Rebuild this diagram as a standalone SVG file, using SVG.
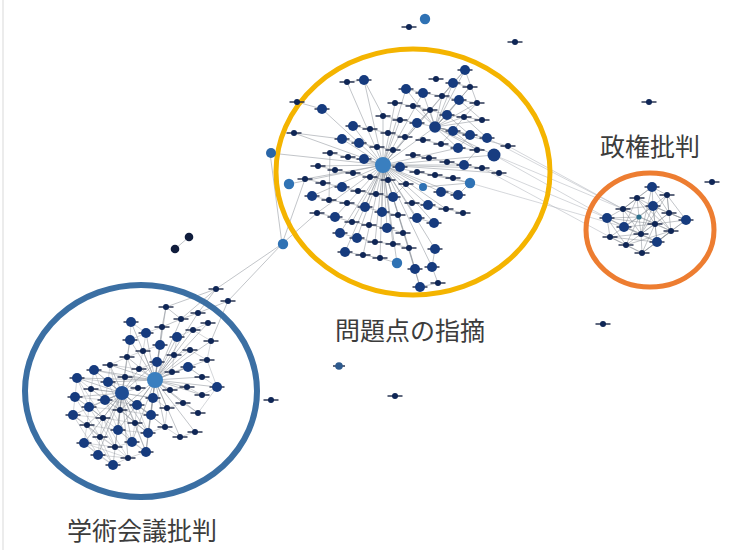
<svg xmlns="http://www.w3.org/2000/svg" xmlns:xlink="http://www.w3.org/1999/xlink" width="731" height="550" viewBox="0 0 731 550">
<style>
.e{fill:none;stroke:#8a8f97;stroke-width:0.65;stroke-opacity:0.8}
.em{fill:none;stroke:#8a8f97;stroke-width:0.6;stroke-opacity:0.6}
.ef{fill:none;stroke:#b4b8be;stroke-width:0.8;stroke-opacity:0.7}
.dash{stroke:#1a2747;stroke-width:1.4}
.lbl{font-family:"Noto Sans CJK JP","Noto Sans CJK SC",sans-serif;font-size:25px;fill:#3c3c3c}
.ring{fill:none}
</style>
<defs>
<g id="s"><line class="dash" x1="-7.5" y1="0" x2="7.5" y2="0"/><circle r="3" fill="#0f2656"/></g>
<g id="b"><line class="dash" x1="-7.5" y1="0" x2="7.5" y2="0"/><circle r="5" fill="#163b7e"/></g>
<g id="l"><circle r="5.2" fill="#2f72b4"/></g>
<g id="h"><circle r="8" fill="#3a7fbf"/></g>
</defs>
<rect width="731" height="550" fill="#ffffff"/>
<line x1="3" y1="0" x2="3" y2="550" stroke="#e6e6e6" stroke-width="1.5"/>

<g id="connectors">
<path class="e" d="M383,165L322,109M383,165L353,126M383,165L342,139M383,165L364,159M383,165L330,153M383,165L318,166M383,165L305,179M383,165L289,184M383,165L312,196M383,165L317,213M383,165L335,217M383,165L340,233M383,165L345,252M383,165L357,238M383,165L365,207M383,165L382,212M383,165L387,228M383,165L393,244M383,165L397,263M383,165L415,269M383,165L420,287M383,165L409,248M383,165L417,218M383,165L428,205M383,165L441,192M383,165L423,187M383,165L458,195M383,165L470,183M383,165L464,165M383,165L494,155M383,165L458,148M383,165L435,127M383,165L417,123M383,165L406,89M383,165L423,93M383,165L453,83M383,165L465,70M383,165L383,116M383,165L400,120M383,165L395,103M383,165L364,80M383,165L347,82M383,165L270,153M383,165L294,133M383,165L482,168M383,165L499,173M383,165L446,209M383,165L434,223M383,165L432,267M383,165L375,242M383,165L352,222M383,165L363,255M383,165L380,258M383,165L435,249"/>
<path class="e" d="M435,127L465,70M435,127L453,83M435,127L459,100M435,127L477,103M435,127L482,120M435,127L487,138M435,127L470,135M435,127L453,131M435,127L464,117M435,127L447,115M435,127L470,87M435,127L442,96M435,127L430,110M435,127L413,106M435,127L494,155M435,127L458,148M435,127L477,150M435,127L423,93M435,127L406,89M435,127L508,146M453,83L470,87L459,100L477,103L464,117L482,120M442,96L459,100L447,115L464,117L453,131L470,135L458,148L477,150L464,165M430,110L447,115L435,127L453,131M413,106L430,110L417,123L435,127M423,140L441,144L458,148M441,144L453,131M447,162L464,165L482,168L499,173M429,158L447,162M413,155L429,158M330,153L329,200M423,187L470,183M417,172L435,175L453,178L470,183M441,192L458,195L470,183M412,203L428,205L446,209L463,213M417,218L434,223M435,249L432,267M415,269L420,287L438,283L432,267M409,248L415,269M387,228L403,233M393,197L406,184M376,194L393,197M358,191L376,194M342,187L358,191M323,183L342,187M305,179L323,183M312,196L329,200L347,203L365,207L382,212L398,215M317,213L335,217L352,222L369,225L387,228M340,233L357,238L375,242L393,244L409,248M345,252L363,255L380,258L397,263M353,126L370,129L388,133L405,137M342,139L359,143L377,147L393,150M318,166L335,170L353,173L370,177L388,180M294,133L342,139M297,102L322,109M347,82L364,80M270,153L282,244M282,244L317,213M282,244L305,179M406,89L423,93L442,96M395,103L413,106M383,116L400,120L417,123M364,80L383,116M465,70L453,83M465,70L477,103M453,83L442,96M459,100L482,120M447,115L470,135M464,117L487,138M453,131L477,150"/>
<path class="ef" d="M494,155L607,218M508,146L623,209M499,173L607,218M470,183L624,227M487,138L623,209M482,168L610,237M494,155L623,209"/>
<path class="e" d="M282,244L216,289M282,244L228,301M216,289L198,313M228,301L198,313M216,289L181,319M228,301L211,341M166,307L162,327L181,319L166,307M181,319L198,313M216,289L166,307"/>
<path class="e" d="M155,380L131,322M155,380L146,333M155,380L130,340M155,380L162,327M155,380L177,337M155,380L193,330M155,380L208,323M155,380L211,341M155,380L160,345M155,380L143,351M155,380L174,355M155,380L190,350M155,380L207,360M155,380L127,357M155,380L157,362M155,380L172,372M155,380L188,367M155,380L202,377M155,380L217,387M155,380L170,390M155,380L187,387M155,380L202,395M155,380L167,408M155,380L183,403M155,380L198,413M155,380L165,427M155,380L180,437M155,380L195,432M155,380L153,398M155,380L151,415M155,380L148,433M155,380L146,452M155,380L132,442M155,380L137,405M155,380L120,410M155,380L118,430M155,380L108,382M155,380L94,370M155,380L77,378M155,380L110,365M155,380L139,369M155,380L125,377M155,380L166,307M155,380L181,319M155,380L198,313"/>
<path class="e" d="M122,393L77,378M122,393L94,370M122,393L110,365M122,393L75,397M122,393L91,389M122,393L73,415M122,393L89,407M122,393L105,400M122,393L87,425M122,393L103,418M122,393L84,443M122,393L100,437M122,393L98,455M122,393L113,465M122,393L128,458M122,393L115,447M122,393L132,442M122,393L146,452M122,393L148,433M122,393L135,423M122,393L118,430M122,393L120,410M122,393L137,405M122,393L153,398M122,393L151,415M122,393L165,427M122,393L138,388M122,393L125,377M122,393L127,357M122,393L139,369M122,393L157,362M122,393L108,382M122,393L130,340"/>
<path class="em" d="M77,378L75,397L73,415L87,425L84,443L98,455L113,465L128,458L146,452L148,433L151,415L153,398M94,370L91,389L89,407L103,418L100,437L115,447L132,442L135,423L137,405M110,365L108,382L105,400L120,410L118,430M77,378L108,382L138,388M75,397L105,400L137,405M73,415L103,418L135,423M87,425L118,430L148,433M84,443L115,447M98,455L128,458M89,407L120,410L151,415M91,389L122,393L153,398M75,397L89,407L87,425L100,437L98,455M77,378L91,389L105,400L118,430L132,442L146,452M94,370L108,382L120,410L135,423L148,433M73,415L100,437L113,465M84,443L113,465M75,397L103,418L115,447L128,458M89,407L118,430M91,389L120,410L148,433M108,382L137,405L165,427M110,365L139,369L157,362M127,357L143,351L160,345M131,322L146,333L162,327M130,340L146,333M177,337L193,330L208,323M174,355L190,350L207,360M172,372L188,367L202,377M170,390L187,387L202,395M167,408L183,403L198,413M165,427L180,437L195,432M198,413L217,387L202,395M188,367L217,387M207,360L217,387M211,341L207,360M211,341L193,330M77,378L89,407M94,370L105,400M110,365L120,410M127,357L138,388M73,415L98,455M87,425L113,465M103,418L128,458M118,430L146,452M135,423L146,452M151,415L146,452M77,378L103,418M75,397L100,437M89,407L115,447M105,400L132,442M120,410L148,433M137,405L148,433M94,370L125,377M110,365L127,357M131,322L130,340L127,357M146,333L143,351L139,369M162,327L160,345L157,362M177,337L174,355L172,372M153,398L167,408L165,427L148,433M84,443L128,458M73,415L115,447"/>
<path class="e" d="M652,187L637,198L623,209L607,218L624,227L610,237L626,245L642,253L657,242L671,231L686,220L669,213L667,195L652,187M653,206L652,187M653,206L637,198M653,206L667,195M653,206L669,213M653,206L623,209M653,206L639,217M653,206L655,224M653,206L686,220M653,206L624,227M653,206L641,234M653,206L671,231M653,206L657,242M639,217L607,218M639,217L624,227M639,217L641,234M639,217L655,224M639,217L626,245M639,217L637,198M639,217L623,209M655,224L671,231M655,224L686,220M655,224L657,242M655,224L641,234M655,224L669,213M655,224L642,253M655,224L624,227M641,234L626,245M641,234L610,237M641,234L657,242M641,234L642,253M657,242L671,231M657,242L642,253M669,213L686,220M669,213L671,231M667,195L669,213M637,198L623,209M623,209L624,227M607,218L610,237M624,227L641,234M652,187L669,213M637,198L655,224M623,209L641,234M607,218L626,245M686,220L657,242M667,195L686,220M652,187L623,209M671,231L642,253M610,237L642,253M624,227L657,242M669,213L641,234M637,198L624,227M607,218L655,224M610,237L657,242M623,209L671,231M637,198L671,231M652,187L641,234M667,195L641,234M626,245L671,231M607,218L641,234"/>
<path class="e" d="M189,237L175,249"/>
</g>

<g id="cluster-yellow">
<ellipse class="ring" cx="413" cy="172" rx="137" ry="123" stroke="#f4b400" stroke-width="5"/>
<use href="#b" x="465" y="70"/><use href="#s" x="347" y="82"/><use href="#b" x="364" y="80"/><use href="#s" x="436" y="79"/><use href="#b" x="453" y="83"/>
<use href="#b" x="406" y="89"/><use href="#b" x="423" y="93"/><use href="#s" x="470" y="87"/><use href="#s" x="442" y="96"/><use href="#b" x="459" y="100"/>
<use href="#b" x="322" y="109"/><use href="#s" x="297" y="102"/><use href="#s" x="395" y="103"/><use href="#s" x="413" y="106"/><use href="#s" x="430" y="110"/>
<use href="#s" x="477" y="103"/><use href="#s" x="383" y="116"/><use href="#s" x="400" y="120"/><use href="#b" x="417" y="123"/><use href="#b" x="447" y="115"/>
<use href="#s" x="464" y="117"/><circle cx="435" cy="127" r="5.8" fill="#163b7e"/><use href="#s" x="482" y="120"/><use href="#b" x="353" y="126"/><use href="#s" x="370" y="129"/>
<use href="#s" x="388" y="133"/><use href="#s" x="405" y="137"/><use href="#b" x="453" y="131"/><use href="#b" x="470" y="135"/><use href="#b" x="487" y="138"/>
<use href="#s" x="294" y="133"/><use href="#b" x="342" y="139"/><use href="#b" x="359" y="143"/><use href="#s" x="377" y="147"/><use href="#s" x="393" y="150"/>
<use href="#s" x="423" y="140"/><use href="#s" x="441" y="144"/><use href="#b" x="458" y="148"/><use href="#s" x="477" y="150"/><use href="#s" x="508" y="146"/>
<circle cx="494" cy="155" r="6.5" fill="#173c80"/>
<use href="#s" x="330" y="153"/><use href="#s" x="348" y="157"/><use href="#b" x="364" y="159"/><use href="#b" x="400" y="167"/>
<use href="#s" x="413" y="155"/><use href="#s" x="429" y="158"/><use href="#s" x="447" y="162"/><use href="#b" x="464" y="165"/><use href="#s" x="482" y="168"/>
<use href="#s" x="499" y="173"/><use href="#s" x="318" y="166"/><use href="#s" x="335" y="170"/><use href="#s" x="353" y="173"/><use href="#s" x="370" y="177"/>
<use href="#s" x="388" y="180"/><use href="#s" x="417" y="172"/><use href="#s" x="435" y="175"/><use href="#s" x="453" y="178"/><use href="#l" x="470" y="183"/>
<circle cx="423" cy="187" r="4" fill="#2f72b4"/><use href="#l" x="289" y="184"/><use href="#s" x="305" y="179"/><use href="#s" x="323" y="183"/><use href="#b" x="342" y="187"/>
<use href="#s" x="358" y="191"/><use href="#s" x="376" y="194"/><use href="#b" x="393" y="197"/><use href="#s" x="406" y="184"/><use href="#b" x="441" y="192"/>
<use href="#b" x="458" y="195"/><use href="#b" x="312" y="196"/><use href="#s" x="329" y="200"/><use href="#s" x="347" y="203"/><use href="#b" x="365" y="207"/>
<use href="#b" x="382" y="212"/><use href="#s" x="398" y="215"/><use href="#s" x="412" y="203"/><use href="#b" x="428" y="205"/><use href="#s" x="446" y="209"/>
<use href="#s" x="463" y="213"/><use href="#s" x="317" y="213"/><use href="#b" x="335" y="217"/><use href="#s" x="352" y="222"/><use href="#s" x="369" y="225"/>
<use href="#b" x="387" y="228"/><use href="#s" x="403" y="233"/><use href="#b" x="417" y="218"/><use href="#b" x="434" y="223"/><use href="#b" x="340" y="233"/>
<use href="#b" x="357" y="238"/><use href="#s" x="375" y="242"/><use href="#s" x="393" y="244"/><use href="#s" x="409" y="248"/><use href="#b" x="435" y="249"/>
<use href="#b" x="345" y="252"/><use href="#s" x="363" y="255"/><use href="#s" x="380" y="258"/><use href="#l" x="397" y="263"/><use href="#b" x="415" y="269"/>
<use href="#b" x="432" y="267"/><use href="#b" x="420" y="287"/><use href="#s" x="438" y="283"/>
<use href="#h" x="383" y="165"/>
</g>

<g id="cluster-blue">
<ellipse class="ring" cx="141" cy="391" rx="116" ry="106" stroke="#3b6fa3" stroke-width="6"/>
<use href="#s" x="166" y="307"/><use href="#s" x="181" y="319"/><use href="#s" x="198" y="313"/>
<use href="#b" x="131" y="322"/><use href="#b" x="146" y="333"/><use href="#b" x="130" y="340"/><use href="#s" x="162" y="327"/><use href="#b" x="177" y="337"/>
<use href="#s" x="193" y="330"/><use href="#s" x="208" y="323"/><use href="#s" x="211" y="341"/><use href="#b" x="160" y="345"/><use href="#s" x="143" y="351"/>
<use href="#s" x="174" y="355"/><use href="#s" x="190" y="350"/><use href="#s" x="207" y="360"/><use href="#s" x="127" y="357"/><use href="#b" x="94" y="370"/>
<use href="#s" x="110" y="365"/><use href="#b" x="157" y="362"/><use href="#s" x="139" y="369"/><use href="#s" x="172" y="372"/><use href="#b" x="188" y="367"/>
<use href="#s" x="202" y="377"/><use href="#b" x="77" y="378"/><use href="#b" x="108" y="382"/><use href="#s" x="125" y="377"/><use href="#b" x="217" y="387"/>
<use href="#b" x="75" y="397"/><use href="#s" x="91" y="389"/><use href="#b" x="153" y="398"/><use href="#s" x="138" y="388"/>
<use href="#s" x="170" y="390"/><use href="#s" x="187" y="387"/><use href="#s" x="202" y="395"/><use href="#b" x="73" y="415"/><use href="#b" x="89" y="407"/>
<use href="#b" x="105" y="400"/><use href="#s" x="120" y="410"/><use href="#b" x="137" y="405"/><use href="#b" x="151" y="415"/><use href="#s" x="167" y="408"/>
<use href="#s" x="183" y="403"/><use href="#s" x="198" y="413"/><use href="#s" x="87" y="425"/><use href="#s" x="103" y="418"/><use href="#b" x="118" y="430"/>
<use href="#s" x="135" y="423"/><use href="#b" x="148" y="433"/><use href="#s" x="165" y="427"/><use href="#s" x="180" y="437"/><use href="#s" x="195" y="432"/>
<use href="#b" x="84" y="443"/><use href="#s" x="100" y="437"/><use href="#s" x="115" y="447"/><use href="#b" x="132" y="442"/><use href="#b" x="146" y="452"/>
<use href="#b" x="98" y="455"/><use href="#b" x="113" y="465"/><use href="#s" x="128" y="458"/>
<circle cx="122" cy="393" r="7" fill="#1f4d93"/>
<use href="#h" x="155" y="380"/>
</g>

<g id="cluster-orange">
<ellipse class="ring" cx="650" cy="230" rx="64" ry="57" stroke="#ed7d31" stroke-width="5"/>
<use href="#b" x="652" y="187"/><use href="#s" x="637" y="198"/><use href="#s" x="667" y="195"/><use href="#s" x="623" y="209"/><use href="#b" x="653" y="206"/>
<use href="#s" x="669" y="213"/><use href="#b" x="607" y="218"/><circle cx="639" cy="217" r="2.6" fill="#2b6e8c"/><use href="#s" x="655" y="224"/><use href="#b" x="686" y="220"/>
<use href="#b" x="624" y="227"/><use href="#s" x="610" y="237"/><use href="#s" x="641" y="234"/><use href="#s" x="671" y="231"/><use href="#s" x="626" y="245"/>
<use href="#b" x="657" y="242"/><use href="#s" x="642" y="253"/>
</g>

<g id="isolated-nodes">
<use href="#l" x="425" y="19"/><use href="#s" x="409" y="27"/><use href="#s" x="515" y="42"/><use href="#s" x="649" y="102"/><use href="#s" x="712" y="182"/>
<use href="#s" x="603" y="324"/><line class="dash" x1="333" y1="366" x2="345" y2="366"/><circle cx="339" cy="366" r="3.8" fill="#2d5a8e"/><use href="#s" x="395" y="396"/><use href="#s" x="271" y="400"/>
<circle cx="189" cy="237" r="4.3" fill="#101d3c"/><circle cx="175" cy="249" r="4.3" fill="#101d3c"/>
<circle cx="271" cy="153" r="5" fill="#2a66a8"/>
<use href="#l" x="283" y="244"/><use href="#s" x="216" y="289"/><use href="#s" x="228" y="301"/>
</g>

<g id="labels">
<text class="lbl" x="600" y="156">政権批判</text>
<text class="lbl" x="335" y="340">問題点の指摘</text>
<text class="lbl" x="67" y="540">学術会議批判</text>
</g>
</svg>
